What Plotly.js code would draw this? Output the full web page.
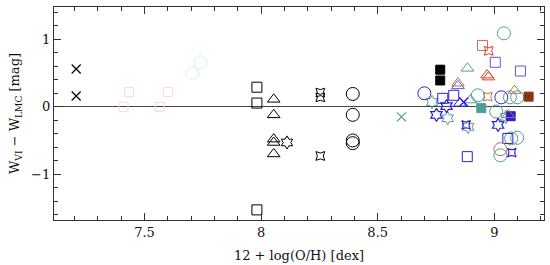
<!DOCTYPE html>
<html>
<head>
<meta charset="utf-8">
<script src="https://cdn.plot.ly/plotly-3.0.1.min.js"></script>
<style>
  body { margin: 0; background: #fff; }
  #chart { width: 550px; height: 265px; }
</style>
</head>
<body>
<div id="chart"></div>
<script>
// black: single galaxies
var blkCrossX = [7.207, 7.207];
var blkCrossY = [0.56, 0.16];
var blkSqX = [7.982, 7.982, 7.982];
var blkSqY = [0.29, 0.055, -1.53];
var blkTriX = [8.054, 8.054, 8.054, 8.054, 8.054];
var blkTriY = [0.11, -0.12, -0.48, -0.53, -0.70];
var blkHexX = [8.111];
var blkHexY = [-0.53];
var blkStarX = [8.254, 8.254, 8.254];
var blkStarY = [0.21, 0.14, -0.73];
var blkCircX = [8.393, 8.393, 8.393, 8.393];
var blkCircY = [0.19, -0.12, -0.50, -0.54];
var blkFillX = [8.768, 8.768];
var blkFillY = [0.55, 0.39];

// teal
var tealCircX = [9.041, 8.929, 9.067, 9.098, 9.008, 9.072, 9.098, 9.026];
var tealCircY = [1.09, 0.17, 0.14, 0.14, -0.07, -0.47, -0.46, -0.72];
var tealTriX = [8.885, 8.898];
var tealTriY = [0.57, 0.10];
var tealCrossX = [8.602];
var tealCrossY = [-0.15];
var tealHexX = [8.733, 8.80, 8.888, 9.05];
var tealHexY = [0.07, -0.17, -0.30, -0.15];
var tealFillX = [8.944];
var tealFillY = [-0.02];

// blue
var blueCircX = [8.700, 9.03];
var blueCircY = [0.20, 0.14];
var blueSqX = [8.779, 8.826, 8.884, 9.058];
var blueSqY = [0.125, 0.17, -0.74, -0.47];
var blueTriX = [8.852];
var blueTriY = [0.05];
var blueCrossX = [8.869];
var blueCrossY = [0.07];
var blueHexX = [8.795, 8.752, 9.016];
var blueHexY = [0.01, -0.12, -0.27];
var blueStarX = [8.879, 9.075];
var blueStarY = [-0.27, -0.68];
var blueFillX = [9.07];
var blueFillY = [-0.14];

// purple
var purpSqX = [9.004, 9.112];
var purpSqY = [0.66, 0.53];
var purpTriX = [8.844];
var purpTriY = [0.31];

// brown / red
var brnSqX = [8.949];
var brnSqY = [0.91];
var brnTriX = [8.844, 9.087, 9.06];
var brnTriY = [0.35, 0.24, -0.12];
var brnStarX = [8.972];
var brnStarY = [0.15];
var brnCircX = [9.026];
var brnCircY = [-0.63];
var redStarX = [8.976];
var redStarY = [0.83];
var redTriX = [8.969, 8.975];
var redTriY = [0.47, 0.44];
var darkFillX = [9.147];
var darkFillY = [0.15];

// faint pastel points at low metallicity
var paleSqX = [7.434, 7.41, 7.60, 7.565];
var paleSqY = [0.22, 0.0, 0.22, 0.0];
var paleCircX = [7.705, 7.74];
var paleCircY = [0.50, 0.66];

var pts = function(x, y, symbol, color, size, lw){
  return {
    x: x,
    y: y,
    type: 'scatter',
    mode: 'markers',
    hoverinfo: 'skip',
    marker: {
      symbol: symbol,
      color: color,
      size: size,
      line: { color: color, width: lw || 1 }
    }
  };
};

var teal = '#4f9d99';
var blue = '#2b1fd6';
var purp = '#6a52e2';
var brn = '#b9714f';
var red = '#e0401e';

var data = [
  pts(paleSqX, paleSqY, 'square-open', '#f7d6ea', 9, 1),
  pts(paleCircX, paleCircY, 'circle-open', '#cdf4f7', 13, 1),

  pts(blkCrossX, blkCrossY, 'x-thin-open', '#000', 9, 1.2),
  pts(blkSqX, blkSqY, 'square-open', '#000', 10, 1),
  pts(blkTriX, blkTriY, 'triangle-up-open', '#000', 11, 1),
  pts(blkHexX, blkHexY, 'hexagram-open', '#000', 10, 1),
  pts(blkStarX, blkStarY, 'star-square-open', '#000', 8, 1),
  pts(blkCircX, blkCircY, 'circle-open', '#000', 13, 1),
  pts(blkFillX, blkFillY, 'square', '#000', 9, 1),

  pts(tealCircX, tealCircY, 'circle-open', teal, 13, 1),
  pts(tealTriX, tealTriY, 'triangle-up-open', teal, 11, 1),
  pts(tealCrossX, tealCrossY, 'x-thin-open', teal, 9, 1.2),
  pts(tealHexX, tealHexY, 'hexagram-open', teal, 10, 1),
  pts(tealFillX, tealFillY, 'square', teal, 9, 1),

  pts(blueCircX, blueCircY, 'circle-open', blue, 13, 1),
  pts(blueSqX, blueSqY, 'square-open', blue, 10, 1),
  pts(blueTriX, blueTriY, 'triangle-up-open', blue, 11, 1),
  pts(blueCrossX, blueCrossY, 'x-thin-open', blue, 9, 1.2),
  pts(blueHexX, blueHexY, 'hexagram-open', blue, 10, 1.2),
  pts(blueStarX, blueStarY, 'star-square-open', blue, 8, 1.2),
  pts(blueFillX, blueFillY, 'square', blue, 9, 1),

  pts(purpSqX, purpSqY, 'square-open', purp, 10, 1),
  pts(purpTriX, purpTriY, 'triangle-up-open', purp, 11, 1),

  pts(brnSqX, brnSqY, 'square-open', brn, 10, 1),
  pts(brnTriX, brnTriY, 'triangle-up-open', brn, 11, 1),
  pts(brnStarX, brnStarY, 'star-square-open', brn, 8, 1),
  pts(brnCircX, brnCircY, 'circle-open', brn, 13, 1),
  pts(redStarX, redStarY, 'star-square-open', red, 8, 1),
  pts(redTriX, redTriY, 'triangle-up-open', red, 11, 1),
  pts(darkFillX, darkFillY, 'square', '#8b3510', 9, 1)
];

var axisFont = { family: 'DejaVu Serif, Liberation Serif, serif', size: 13, color: '#111' };

var layout = {
  width: 550,
  height: 265,
  showlegend: false,
  paper_bgcolor: '#ffffff',
  plot_bgcolor: '#ffffff',
  margin: { l: 54, r: 6, t: 7, b: 45 },
  font: axisFont,
  xaxis: {
    range: [7.112, 9.213],
    tick0: 7.5,
    dtick: 0.5,
    ticks: 'inside',
    ticklen: 7,
    tickwidth: 1.2,
    tickcolor: '#333',
    showline: true,
    linecolor: '#333',
    linewidth: 1.2,
    mirror: 'allticks',
    showgrid: false,
    zeroline: false,
    tickfont: axisFont,
    minor: { dtick: 0.1, ticks: 'inside', ticklen: 4, tickcolor: '#333', tickwidth: 1 },
    title: { text: '12 + log(O/H) [dex]', font: axisFont, standoff: 12 }
  },
  yaxis: {
    range: [-1.68, 1.48],
    tick0: 0,
    dtick: 1,
    ticks: 'inside',
    ticklen: 7,
    tickwidth: 1.2,
    tickcolor: '#333',
    showline: true,
    linecolor: '#333',
    linewidth: 1.2,
    mirror: 'allticks',
    showgrid: false,
    zeroline: true,
    zerolinecolor: '#444',
    zerolinewidth: 1.3,
    tickfont: axisFont,
    minor: { dtick: 0.2, ticks: 'inside', ticklen: 4, tickcolor: '#333', tickwidth: 1 },
    title: { text: 'W<sub>VI</sub> \u2212 W<sub>LMC</sub> [mag]', font: axisFont, standoff: 8 }
  }
};

Plotly.newPlot('chart', data, layout, { displayModeBar: false, staticPlot: true });
</script>
</body>
</html>
